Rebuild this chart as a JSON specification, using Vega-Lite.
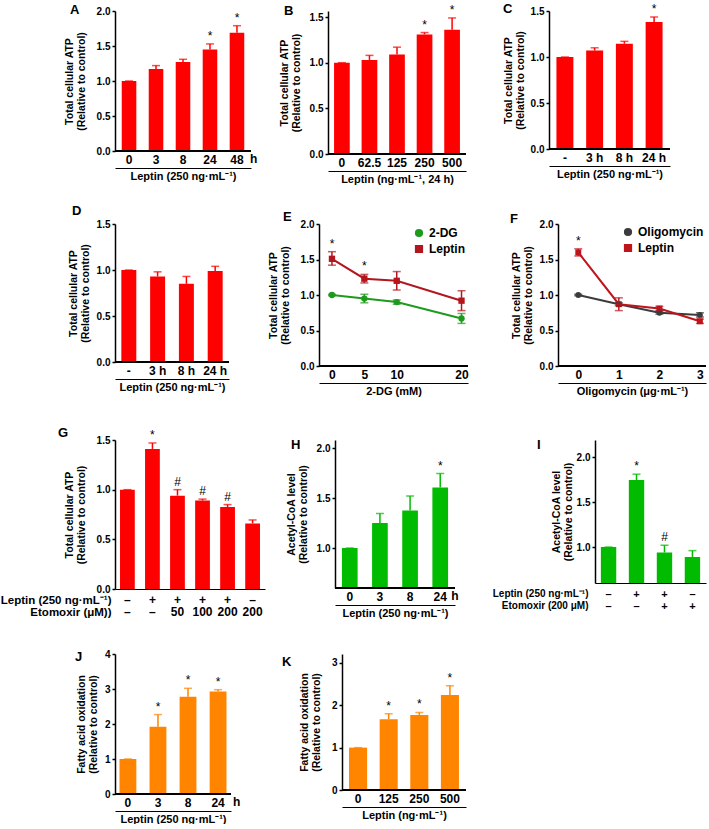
{
"$schema": "https://vega.github.io/schema/vega-lite/v6.json",
"padding": {"left": 0, "top": 2, "right": 0, "bottom": 0},
"background": "white",
"config": {
  "font": "Liberation Sans",
  "view": {"stroke": null},
  "axis": {"grid": false, "labelOverlap": false, "domainColor": "black", "tickColor": "black", "labelColor": "black", "titleColor": "black", "labelFontWeight": "bold", "titleFontWeight": "bold"},
  "axisY": {"labelFontSize": 10, "titleFontSize": 10.5, "titleLineHeight": 12, "titleBaseline": "top", "tickSize": 3, "labelPadding": 2, "domainWidth": 1.5, "tickWidth": 1.5, "labelOverlap": false},
  "axisX": {"offset": 17, "labelPadding": -14, "ticks": false, "tickSize": 0, "labelAngle": 0, "labelFontSize": 12, "titleFontSize": 11, "titlePadding": 2, "domainWidth": 1.2},
  "title": {"anchor": "start", "frame": "group", "fontSize": 13, "fontWeight": "bold", "baseline": "alphabetic", "color": "black"},
  "text": {"color": "black"}
},
"columns": 1,
"align": "none",
"spacing": 20,
"resolve": {"scale": {"color": "independent", "shape": "independent"}, "legend": {"color": "independent", "shape": "independent"}},
"concat": [
{"concat": [
 {"width": 136, "height": 140, "title": {"text": "A", "dx": -45, "offset": -10.5},
  "data": {"values": [
   {"x": "0", "v": 1.0, "hi": 1.0, "s": ""},
   {"x": "3", "v": 1.17, "hi": 1.22, "s": ""},
   {"x": "8", "v": 1.27, "hi": 1.31, "s": ""},
   {"x": "24", "v": 1.45, "hi": 1.53, "s": "*"},
   {"x": "48", "v": 1.69, "hi": 1.79, "s": "*"}]},
  "layer": [
   {"mark": {"type": "bar", "color": "#ff0000"}, "encoding": {
     "x": {"field": "x", "type": "ordinal", "sort": null, "scale": {"paddingInner": 0.46, "paddingOuter": 0.25}, "axis": {"title": "Leptin (250 ng·mL⁻¹)"}},
     "y": {"field": "v", "type": "quantitative", "scale": {"domain": [0, 2], "nice": false}, "axis": {"values": [0, 0.5, 1, 1.5, 2], "tickCount": 10, "format": ".1f", "title": ["Total cellular ATP", "(Relative to control)"], "titleX": -51, "minExtent": 100}}}},
   {"mark": {"type": "rule", "color": "#ff0000", "strokeWidth": 1.5}, "encoding": {"x": {"field": "x", "type": "ordinal", "sort": null}, "y": {"field": "v", "type": "quantitative"}, "y2": {"field": "hi"}}},
   {"mark": {"type": "tick", "color": "#ff0000", "thickness": 1.5, "size": 8, "orient": "horizontal"}, "encoding": {"x": {"field": "x", "type": "ordinal", "sort": null}, "y": {"field": "hi", "type": "quantitative"}}},
   {"mark": {"type": "text", "baseline": "bottom", "dy": -1, "fontSize": 12}, "encoding": {"x": {"field": "x", "type": "ordinal", "sort": null}, "y": {"field": "hi", "type": "quantitative"}, "text": {"field": "s"}}},
   {"data": {"values": [{"u": "h"}]}, "mark": {"type": "text", "align": "left", "baseline": "top", "dx": 13, "dy": 3, "fontSize": 12, "fontWeight": "bold"}, "encoding": {"x": {"datum": "48", "type": "ordinal"}, "y": {"datum": 0, "type": "quantitative"}, "text": {"field": "u"}}},
   {"mark": {"type": "rule", "color": "black", "strokeWidth": 1.5}, "encoding": {"y": {"datum": 0, "type": "quantitative"}}}
  ]},
 {"width": 138, "height": 143, "title": {"text": "B", "dx": -44, "offset": -14.5},
  "data": {"values": [
   {"x": "0", "v": 1.0, "hi": 1.0, "s": ""},
   {"x": "62.5", "v": 1.03, "hi": 1.08, "s": ""},
   {"x": "125", "v": 1.09, "hi": 1.17, "s": ""},
   {"x": "250", "v": 1.31, "hi": 1.33, "s": "*"},
   {"x": "500", "v": 1.36, "hi": 1.49, "s": "*"}]},
  "layer": [
   {"mark": {"type": "bar", "color": "#ff0000"}, "encoding": {
     "x": {"field": "x", "type": "ordinal", "sort": null, "scale": {"paddingInner": 0.43, "paddingOuter": 0.22}, "axis": {"title": "Leptin (ng·mL⁻¹, 24 h)"}},
     "y": {"field": "v", "type": "quantitative", "scale": {"domain": [0, 1.566], "nice": false}, "axis": {"values": [0, 0.5, 1, 1.5], "tickCount": 10, "format": ".1f", "title": ["Total cellular ATP", "(Relative to control)"], "titleX": -49, "minExtent": 70}}}},
   {"mark": {"type": "rule", "color": "#ff0000", "strokeWidth": 1.5}, "encoding": {"x": {"field": "x", "type": "ordinal", "sort": null}, "y": {"field": "v", "type": "quantitative"}, "y2": {"field": "hi"}}},
   {"mark": {"type": "tick", "color": "#ff0000", "thickness": 1.5, "size": 8, "orient": "horizontal"}, "encoding": {"x": {"field": "x", "type": "ordinal", "sort": null}, "y": {"field": "hi", "type": "quantitative"}}},
   {"mark": {"type": "text", "baseline": "bottom", "dy": -1, "fontSize": 12}, "encoding": {"x": {"field": "x", "type": "ordinal", "sort": null}, "y": {"field": "hi", "type": "quantitative"}, "text": {"field": "s"}}},
   {"mark": {"type": "rule", "color": "black", "strokeWidth": 1.5}, "encoding": {"y": {"datum": 0, "type": "quantitative"}}}
  ]},
 {"width": 121, "height": 138, "title": {"text": "C", "dx": -46, "offset": -13.5},
  "data": {"values": [
   {"x": "-", "v": 1.0, "hi": 1.0, "s": ""},
   {"x": "3 h", "v": 1.07, "hi": 1.10, "s": ""},
   {"x": "8 h", "v": 1.145, "hi": 1.17, "s": ""},
   {"x": "24 h", "v": 1.38, "hi": 1.435, "s": "*"}]},
  "layer": [
   {"mark": {"type": "bar", "color": "#ff0000"}, "encoding": {
     "x": {"field": "x", "type": "ordinal", "sort": null, "scale": {"paddingInner": 0.43, "paddingOuter": 0.25}, "axis": {"title": "Leptin (250 ng·mL⁻¹)"}},
     "y": {"field": "v", "type": "quantitative", "scale": {"domain": [0, 1.5], "nice": false}, "axis": {"values": [0, 0.5, 1, 1.5], "tickCount": 10, "format": ".1f", "title": ["Total cellular ATP", "(Relative to control)"], "titleX": -46, "minExtent": 82}}}},
   {"mark": {"type": "rule", "color": "#ff0000", "strokeWidth": 1.5}, "encoding": {"x": {"field": "x", "type": "ordinal", "sort": null}, "y": {"field": "v", "type": "quantitative"}, "y2": {"field": "hi"}}},
   {"mark": {"type": "tick", "color": "#ff0000", "thickness": 1.5, "size": 8, "orient": "horizontal"}, "encoding": {"x": {"field": "x", "type": "ordinal", "sort": null}, "y": {"field": "hi", "type": "quantitative"}}},
   {"mark": {"type": "text", "baseline": "bottom", "dy": -1, "fontSize": 12}, "encoding": {"x": {"field": "x", "type": "ordinal", "sort": null}, "y": {"field": "hi", "type": "quantitative"}, "text": {"field": "s"}}},
   {"mark": {"type": "rule", "color": "black", "strokeWidth": 1.5}, "encoding": {"y": {"datum": 0, "type": "quantitative"}}}
  ]}
], "spacing": 0, "align": "none"},
{"concat": [
{"concat": [
 {"width": 114, "height": 138, "title": {"text": "D", "dx": -43, "offset": 1.5},
  "data": {"values": [
   {"x": "-", "v": 1.0, "hi": 1.0, "s": ""},
   {"x": "3 h", "v": 0.93, "hi": 0.98, "s": ""},
   {"x": "8 h", "v": 0.85, "hi": 0.93, "s": ""},
   {"x": "24 h", "v": 0.99, "hi": 1.04, "s": ""}]},
  "layer": [
   {"mark": {"type": "bar", "color": "#ff0000"}, "encoding": {
     "x": {"field": "x", "type": "ordinal", "sort": null, "scale": {"paddingInner": 0.48, "paddingOuter": 0.22}, "axis": {"title": "Leptin (250 ng·mL⁻¹)"}},
     "y": {"field": "v", "type": "quantitative", "scale": {"domain": [0, 1.5], "nice": false}, "axis": {"values": [0, 0.5, 1, 1.5], "tickCount": 10, "format": ".1f", "title": ["Total cellular ATP", "(Relative to control)"], "titleX": -47, "minExtent": 96}}}},
   {"mark": {"type": "rule", "color": "#ff0000", "strokeWidth": 1.5}, "encoding": {"x": {"field": "x", "type": "ordinal", "sort": null}, "y": {"field": "v", "type": "quantitative"}, "y2": {"field": "hi"}}},
   {"mark": {"type": "tick", "color": "#ff0000", "thickness": 1.5, "size": 8, "orient": "horizontal"}, "encoding": {"x": {"field": "x", "type": "ordinal", "sort": null}, "y": {"field": "hi", "type": "quantitative"}}},
   {"mark": {"type": "rule", "color": "black", "strokeWidth": 1.5}, "encoding": {"y": {"datum": 0, "type": "quantitative"}}}
  ]},
 {"width": 149, "height": 142, "title": {"text": "E", "dx": -36, "offset": -4.5},
  "data": {"values": [
   {"x": 0, "g": "2-DG", "v": 1.0, "lo": 0.99, "hi": 1.01, "s": ""},
   {"x": 5, "g": "2-DG", "v": 0.95, "lo": 0.89, "hi": 1.01, "s": ""},
   {"x": 10, "g": "2-DG", "v": 0.90, "lo": 0.87, "hi": 0.93, "s": ""},
   {"x": 20, "g": "2-DG", "v": 0.67, "lo": 0.60, "hi": 0.74, "s": ""},
   {"x": 0, "g": "Leptin", "v": 1.51, "lo": 1.42, "hi": 1.61, "s": "*"},
   {"x": 5, "g": "Leptin", "v": 1.23, "lo": 1.17, "hi": 1.29, "s": "*"},
   {"x": 10, "g": "Leptin", "v": 1.20, "lo": 1.07, "hi": 1.33, "s": ""},
   {"x": 20, "g": "Leptin", "v": 0.92, "lo": 0.78, "hi": 1.06, "s": ""}]},
  "layer": [
   {"mark": {"type": "line", "strokeWidth": 2}, "encoding": {
     "x": {"field": "x", "type": "quantitative", "scale": {"domain": [-2, 21], "nice": false, "zero": false}, "axis": {"values": [0, 5, 10, 20], "tickCount": 10, "format": "d", "title": "2-DG (mM)"}},
     "y": {"field": "v", "type": "quantitative", "scale": {"domain": [0, 2], "nice": false}, "axis": {"values": [0, 0.5, 1, 1.5, 2], "tickCount": 10, "format": ".1f", "title": ["Total cellular ATP", "(Relative to control)"], "titleX": -51, "minExtent": 89}},
     "color": {"field": "g", "type": "nominal", "scale": {"domain": ["2-DG", "Leptin"], "range": ["#1e9a1e", "#b3161e"]}, "legend": {"orient": "top-right", "title": null, "offset": 3, "labelFontSize": 12, "labelFontWeight": "bold", "symbolSize": 45, "rowPadding": 2}}}},
   {"mark": {"type": "point", "filled": true, "size": 40, "opacity": 1}, "encoding": {
     "x": {"field": "x", "type": "quantitative"}, "y": {"field": "v", "type": "quantitative"},
     "color": {"field": "g", "type": "nominal", "legend": {"orient": "top-right", "title": null, "offset": 3, "labelFontSize": 12, "labelFontWeight": "bold", "symbolSize": 45, "rowPadding": 2}},
     "shape": {"field": "g", "type": "nominal", "scale": {"domain": ["2-DG", "Leptin"], "range": ["circle", "square"]}, "legend": {"orient": "top-right", "title": null, "offset": 3, "labelFontSize": 12, "labelFontWeight": "bold", "symbolSize": 45, "rowPadding": 2}}}},
   {"mark": {"type": "rule", "strokeWidth": 1.5}, "encoding": {"x": {"field": "x", "type": "quantitative"}, "y": {"field": "lo", "type": "quantitative"}, "y2": {"field": "hi"}, "color": {"field": "g", "type": "nominal"}}},
   {"mark": {"type": "tick", "thickness": 1.5, "size": 8, "orient": "horizontal"}, "encoding": {"x": {"field": "x", "type": "quantitative"}, "y": {"field": "lo", "type": "quantitative"}, "color": {"field": "g", "type": "nominal"}}},
   {"mark": {"type": "tick", "thickness": 1.5, "size": 8, "orient": "horizontal"}, "encoding": {"x": {"field": "x", "type": "quantitative"}, "y": {"field": "hi", "type": "quantitative"}, "color": {"field": "g", "type": "nominal"}}},
   {"mark": {"type": "text", "baseline": "bottom", "dy": -1, "fontSize": 12}, "encoding": {"x": {"field": "x", "type": "quantitative"}, "y": {"field": "hi", "type": "quantitative"}, "text": {"field": "s"}}},
   {"mark": {"type": "rule", "color": "black", "strokeWidth": 1.5}, "encoding": {"y": {"datum": 0, "type": "quantitative"}}}
  ]},
 {"width": 148, "height": 142, "title": {"text": "F", "dx": -48, "offset": -6.5},
  "data": {"values": [
   {"x": 0, "g": "Oligomycin", "v": 1.0, "lo": 0.99, "hi": 1.01, "s": ""},
   {"x": 1, "g": "Oligomycin", "v": 0.87, "lo": 0.85, "hi": 0.89, "s": ""},
   {"x": 2, "g": "Oligomycin", "v": 0.75, "lo": 0.73, "hi": 0.77, "s": ""},
   {"x": 3, "g": "Oligomycin", "v": 0.72, "lo": 0.69, "hi": 0.75, "s": ""},
   {"x": 0, "g": "Leptin", "v": 1.60, "lo": 1.55, "hi": 1.65, "s": "*"},
   {"x": 1, "g": "Leptin", "v": 0.87, "lo": 0.78, "hi": 0.96, "s": ""},
   {"x": 2, "g": "Leptin", "v": 0.81, "lo": 0.78, "hi": 0.84, "s": ""},
   {"x": 3, "g": "Leptin", "v": 0.63, "lo": 0.60, "hi": 0.66, "s": ""}]},
  "layer": [
   {"mark": {"type": "line", "strokeWidth": 2}, "encoding": {
     "x": {"field": "x", "type": "quantitative", "scale": {"domain": [-0.5, 3.15], "nice": false, "zero": false}, "axis": {"values": [0, 1, 2, 3], "tickCount": 10, "format": "d", "title": "Oligomycin (μg·mL⁻¹)"}},
     "y": {"field": "v", "type": "quantitative", "scale": {"domain": [0, 2], "nice": false}, "axis": {"values": [0, 0.5, 1, 1.5, 2], "tickCount": 10, "format": ".1f", "title": ["Total cellular ATP", "(Relative to control)"], "titleX": -47, "minExtent": 89}},
     "color": {"field": "g", "type": "nominal", "scale": {"domain": ["Oligomycin", "Leptin"], "range": ["#3c3c3c", "#c0141c"]}, "legend": {"orient": "top-right", "title": null, "offset": 2, "labelFontSize": 12, "labelFontWeight": "bold", "symbolSize": 45, "rowPadding": 2}}}},
   {"mark": {"type": "point", "filled": true, "size": 35, "opacity": 1}, "encoding": {
     "x": {"field": "x", "type": "quantitative"}, "y": {"field": "v", "type": "quantitative"},
     "color": {"field": "g", "type": "nominal", "legend": {"orient": "top-right", "title": null, "offset": 2, "labelFontSize": 12, "labelFontWeight": "bold", "symbolSize": 45, "rowPadding": 2}},
     "shape": {"field": "g", "type": "nominal", "scale": {"domain": ["Oligomycin", "Leptin"], "range": ["circle", "square"]}, "legend": {"orient": "top-right", "title": null, "offset": 2, "labelFontSize": 12, "labelFontWeight": "bold", "symbolSize": 45, "rowPadding": 2}}}},
   {"mark": {"type": "rule", "strokeWidth": 1.5}, "encoding": {"x": {"field": "x", "type": "quantitative"}, "y": {"field": "lo", "type": "quantitative"}, "y2": {"field": "hi"}, "color": {"field": "g", "type": "nominal"}}},
   {"mark": {"type": "tick", "thickness": 1.5, "size": 8, "orient": "horizontal"}, "encoding": {"x": {"field": "x", "type": "quantitative"}, "y": {"field": "lo", "type": "quantitative"}, "color": {"field": "g", "type": "nominal"}}},
   {"mark": {"type": "tick", "thickness": 1.5, "size": 8, "orient": "horizontal"}, "encoding": {"x": {"field": "x", "type": "quantitative"}, "y": {"field": "hi", "type": "quantitative"}, "color": {"field": "g", "type": "nominal"}}},
   {"mark": {"type": "text", "baseline": "bottom", "dy": -1, "fontSize": 12}, "encoding": {"x": {"field": "x", "type": "quantitative"}, "y": {"field": "hi", "type": "quantitative"}, "text": {"field": "s"}}},
   {"mark": {"type": "rule", "color": "black", "strokeWidth": 1.5}, "encoding": {"y": {"datum": 0, "type": "quantitative"}}}
  ]}
], "spacing": 0, "align": "none", "resolve": {"scale": {"color": "independent", "shape": "independent"}, "legend": {"color": "independent", "shape": "independent"}}},
{"concat": [
 {"width": 150, "height": 149, "title": {"text": "G", "dx": -57, "offset": -11.5},
  "data": {"values": [
   {"x": "–|–", "v": 1.0, "hi": 1.0, "s": ""},
   {"x": "+|–", "v": 1.41, "hi": 1.47, "s": "*"},
   {"x": "+|50", "v": 0.94, "hi": 1.0, "s": "#"},
   {"x": "+|100", "v": 0.89, "hi": 0.905, "s": "#"},
   {"x": "+|200", "v": 0.825, "hi": 0.85, "s": "#"},
   {"x": "–|200", "v": 0.66, "hi": 0.695, "s": ""}]},
  "layer": [
   {"mark": {"type": "bar", "color": "#ff0000"}, "encoding": {
     "x": {"field": "x", "type": "ordinal", "sort": null, "scale": {"paddingInner": 0.41, "paddingOuter": 0.2}, "axis": {"title": ["Leptin (250 ng·mL⁻¹)", "Etomoxir (μM))"], "offset": 0, "labelPadding": 5, "labelExpr": "split(datum.label, '|')", "labelLineHeight": 12.5, "titleX": -4, "titleY": 5, "titleAlign": "right", "titleAngle": 0, "titleBaseline": "top", "titleLineHeight": 12.5, "titleFontSize": 11.5, "labelFontSize": 12}},
     "y": {"field": "v", "type": "quantitative", "scale": {"domain": [0, 1.5], "nice": false}, "axis": {"values": [0, 0.5, 1, 1.5], "tickCount": 10, "format": ".1f", "title": ["Total cellular ATP", "(Relative to control)"], "titleX": -51, "minExtent": 110}}}},
   {"mark": {"type": "rule", "color": "#ff0000", "strokeWidth": 1.5}, "encoding": {"x": {"field": "x", "type": "ordinal", "sort": null}, "y": {"field": "v", "type": "quantitative"}, "y2": {"field": "hi"}}},
   {"mark": {"type": "tick", "color": "#ff0000", "thickness": 1.5, "size": 8, "orient": "horizontal"}, "encoding": {"x": {"field": "x", "type": "ordinal", "sort": null}, "y": {"field": "hi", "type": "quantitative"}}},
   {"mark": {"type": "text", "baseline": "bottom", "dy": -1, "fontSize": 12}, "encoding": {"x": {"field": "x", "type": "ordinal", "sort": null}, "y": {"field": "hi", "type": "quantitative"}, "text": {"field": "s"}}}
  ]},
 {"width": 120, "height": 148, "title": {"text": "H", "dx": -44, "offset": -11.5},
  "data": {"values": [
   {"x": "0", "v": 1.0, "hi": 1.0, "s": ""},
   {"x": "3", "v": 1.25, "hi": 1.345, "s": ""},
   {"x": "8", "v": 1.375, "hi": 1.52, "s": ""},
   {"x": "24", "v": 1.605, "hi": 1.745, "s": "*"}]},
  "layer": [
   {"mark": {"type": "bar", "color": "#00bb00", "clip": true}, "encoding": {
     "x": {"field": "x", "type": "ordinal", "sort": null, "scale": {"paddingInner": 0.48, "paddingOuter": 0.23}, "axis": {"title": "Leptin (250 ng·mL⁻¹)"}},
     "y": {"field": "v", "type": "quantitative", "scale": {"domain": [0.6, 2.08], "nice": false, "zero": false}, "axis": {"values": [1, 1.5, 2], "tickCount": 10, "format": ".1f", "title": ["Acetyl-CoA level", "(Relative to control)"], "titleX": -49, "minExtent": 70}}}},
   {"mark": {"type": "rule", "color": "#00bb00", "strokeWidth": 1.5}, "encoding": {"x": {"field": "x", "type": "ordinal", "sort": null}, "y": {"field": "v", "type": "quantitative"}, "y2": {"field": "hi"}}},
   {"mark": {"type": "tick", "color": "#00bb00", "thickness": 1.5, "size": 8, "orient": "horizontal"}, "encoding": {"x": {"field": "x", "type": "ordinal", "sort": null}, "y": {"field": "hi", "type": "quantitative"}}},
   {"mark": {"type": "text", "baseline": "bottom", "dy": -1, "fontSize": 12}, "encoding": {"x": {"field": "x", "type": "ordinal", "sort": null}, "y": {"field": "hi", "type": "quantitative"}, "text": {"field": "s"}}},
   {"data": {"values": [{"u": "h"}]}, "mark": {"type": "text", "align": "left", "baseline": "top", "dx": 11, "dy": 3, "fontSize": 12, "fontWeight": "bold"}, "encoding": {"x": {"datum": "24", "type": "ordinal"}, "y": {"datum": 0.6, "type": "quantitative"}, "text": {"field": "u"}}},
   {"mark": {"type": "rule", "color": "black", "strokeWidth": 1.5}, "encoding": {"y": {"datum": 0.6, "type": "quantitative"}}}
  ]},
 {"width": 111, "height": 143, "title": {"text": "I", "dx": -58, "offset": -11.5},
  "data": {"values": [
   {"x": "–|–", "v": 1.0, "hi": 1.0, "s": ""},
   {"x": "+|–", "v": 1.745, "hi": 1.81, "s": "*"},
   {"x": "+|+", "v": 0.94, "hi": 1.02, "s": "#"},
   {"x": "–|+", "v": 0.89, "hi": 0.96, "s": ""}]},
  "layer": [
   {"mark": {"type": "bar", "color": "#00bb00", "clip": true}, "encoding": {
     "x": {"field": "x", "type": "ordinal", "sort": null, "scale": {"paddingInner": 0.45, "paddingOuter": 0.21}, "axis": {"title": ["Leptin (250 ng·mL⁻¹)", "Etomoxir (200 μM)"], "offset": 0, "labelPadding": 5, "labelExpr": "split(datum.label, '|')", "labelLineHeight": 12, "titleX": -7, "titleY": 5, "titleAlign": "right", "titleAngle": 0, "titleBaseline": "top", "titleLineHeight": 12, "titleFontSize": 10, "labelFontSize": 11}},
     "y": {"field": "v", "type": "quantitative", "scale": {"domain": [0.6, 2.19], "nice": false, "zero": false}, "axis": {"values": [1, 1.5, 2], "tickCount": 10, "format": ".1f", "title": ["Acetyl-CoA level", "(Relative to control)"], "titleX": -44, "minExtent": 136}}}},
   {"mark": {"type": "rule", "color": "#00bb00", "strokeWidth": 1.5}, "encoding": {"x": {"field": "x", "type": "ordinal", "sort": null}, "y": {"field": "v", "type": "quantitative"}, "y2": {"field": "hi"}}},
   {"mark": {"type": "tick", "color": "#00bb00", "thickness": 1.5, "size": 8, "orient": "horizontal"}, "encoding": {"x": {"field": "x", "type": "ordinal", "sort": null}, "y": {"field": "hi", "type": "quantitative"}}},
   {"mark": {"type": "text", "baseline": "bottom", "dy": -1, "fontSize": 12}, "encoding": {"x": {"field": "x", "type": "ordinal", "sort": null}, "y": {"field": "hi", "type": "quantitative"}, "text": {"field": "s"}}}
  ]}
], "spacing": 0, "align": "none"},
{"concat": [
 {"width": 116, "height": 140, "title": {"text": "J", "dx": -40, "offset": -14.5},
  "data": {"values": [
   {"x": "0", "v": 1.0, "hi": 1.0, "s": ""},
   {"x": "3", "v": 1.92, "hi": 2.27, "s": "*"},
   {"x": "8", "v": 2.78, "hi": 3.02, "s": "*"},
   {"x": "24", "v": 2.93, "hi": 2.98, "s": "*"}]},
  "layer": [
   {"mark": {"type": "bar", "color": "#ff8400"}, "encoding": {
     "x": {"field": "x", "type": "ordinal", "sort": null, "scale": {"paddingInner": 0.44, "paddingOuter": 0.15}, "axis": {"title": "Leptin (250 ng·mL⁻¹)"}},
     "y": {"field": "v", "type": "quantitative", "scale": {"domain": [0, 4], "nice": false}, "axis": {"values": [0, 1, 2, 3, 4], "tickCount": 10, "format": "d", "title": ["Fatty acid oxidation", "(Relative to control)"], "titleX": -39, "minExtent": 114}}}},
   {"mark": {"type": "rule", "color": "#ff8400", "strokeWidth": 1.5}, "encoding": {"x": {"field": "x", "type": "ordinal", "sort": null}, "y": {"field": "v", "type": "quantitative"}, "y2": {"field": "hi"}}},
   {"mark": {"type": "tick", "color": "#ff8400", "thickness": 1.5, "size": 8, "orient": "horizontal"}, "encoding": {"x": {"field": "x", "type": "ordinal", "sort": null}, "y": {"field": "hi", "type": "quantitative"}}},
   {"mark": {"type": "text", "baseline": "bottom", "dy": -1, "fontSize": 12}, "encoding": {"x": {"field": "x", "type": "ordinal", "sort": null}, "y": {"field": "hi", "type": "quantitative"}, "text": {"field": "s"}}},
   {"data": {"values": [{"u": "h"}]}, "mark": {"type": "text", "align": "left", "baseline": "top", "dx": 15, "dy": 3, "fontSize": 12, "fontWeight": "bold"}, "encoding": {"x": {"datum": "24", "type": "ordinal"}, "y": {"datum": 0, "type": "quantitative"}, "text": {"field": "u"}}},
   {"mark": {"type": "rule", "color": "black", "strokeWidth": 1.5}, "encoding": {"y": {"datum": 0, "type": "quantitative"}}}
  ]},
 {"width": 124, "height": 136, "title": {"text": "K", "dx": -60, "offset": -14.5},
  "data": {"values": [
   {"x": "0", "v": 1.0, "hi": 1.0, "s": ""},
   {"x": "125", "v": 1.67, "hi": 1.80, "s": "*"},
   {"x": "250", "v": 1.77, "hi": 1.83, "s": "*"},
   {"x": "500", "v": 2.24, "hi": 2.46, "s": "*"}]},
  "layer": [
   {"mark": {"type": "bar", "color": "#ff8400"}, "encoding": {
     "x": {"field": "x", "type": "ordinal", "sort": null, "scale": {"paddingInner": 0.41, "paddingOuter": 0.23}, "axis": {"title": "Leptin (ng·mL⁻¹)"}},
     "y": {"field": "v", "type": "quantitative", "scale": {"domain": [0, 3.21], "nice": false}, "axis": {"values": [0, 1, 2, 3], "tickCount": 10, "format": "d", "title": ["Fatty acid oxidation", "(Relative to control)"], "titleX": -43, "minExtent": 101}}}},
   {"mark": {"type": "rule", "color": "#ff8400", "strokeWidth": 1.5}, "encoding": {"x": {"field": "x", "type": "ordinal", "sort": null}, "y": {"field": "v", "type": "quantitative"}, "y2": {"field": "hi"}}},
   {"mark": {"type": "tick", "color": "#ff8400", "thickness": 1.5, "size": 8, "orient": "horizontal"}, "encoding": {"x": {"field": "x", "type": "ordinal", "sort": null}, "y": {"field": "hi", "type": "quantitative"}}},
   {"mark": {"type": "text", "baseline": "bottom", "dy": -1, "fontSize": 12}, "encoding": {"x": {"field": "x", "type": "ordinal", "sort": null}, "y": {"field": "hi", "type": "quantitative"}, "text": {"field": "s"}}},
   {"mark": {"type": "rule", "color": "black", "strokeWidth": 1.5}, "encoding": {"y": {"datum": 0, "type": "quantitative"}}}
  ]}
], "spacing": 0, "align": "none"}
], "columns": 1, "spacing": 31, "align": "none", "resolve": {"scale": {"color": "independent", "shape": "independent"}, "legend": {"color": "independent", "shape": "independent"}}}
]
}
